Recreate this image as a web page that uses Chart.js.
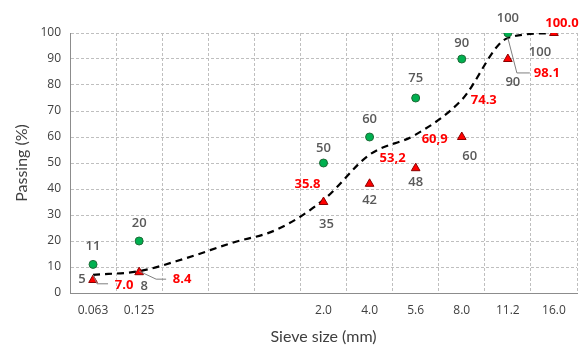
<!DOCTYPE html>
<html>
<head>
<meta charset="utf-8">
<script src="https://cdn.jsdelivr.net/npm/chart.js@4/dist/chart.umd.min.js"></script>
<style>
  html, body { margin: 0; padding: 0; background: #fff; }
  #wrap { width: 583px; height: 350px; position: relative; }
</style>
</head>
<body>
<div id="wrap"><canvas id="mainChart"></canvas></div>
<script>
// sieve sizes (blank slots keep the spacing of the original sheet)
const sieveLabels = ['0.063', '0.125', '', '', '', '2.0', '4.0', '5.6', '8.0', '11.2', '16.0'];
const upperPassing = [11, 20, null, null, null, 50, 60, 75, 90, 100, null];
const lowerPassing = [5, 8, null, null, null, 35, 42, 48, 60, 90, 100];
const curvePassing = [7.0, 8.4, 13.3, 19.2, 24.5, 35.8, 53.2, 60.9, 74.3, 98.1, 100.0];
const curveLabels = ['7.0', '8.4', '', '', '', '35.8', '53,2', '60,9', '74.3', '98.1', '100.0'];
const yTicks = [0, 10, 20, 30, 40, 50, 60, 70, 80, 90, 100];

const FONT = 'Lato, "Open Sans", sans-serif';
const LABEL_FONT = '"Open Sans", "Noto Sans", sans-serif';

// where each value label sits relative to its point (dx, dy), plus optional leader line
const upperPlace = [[0, -18], [0, -18], null, null, null, [0, -15], [0, -18], [0, -20], [0, -16], [0, -15], null];
const lowerPlace = [[-11, -1], [5, 14], null, null, null, [3, 22], [0, 16], [0, 14], [8, 19], [5, 23], [-14, 19]];
const curvePlace = [
    { d: [31, 10], leader: [[4, 9], [15, 9]] },
    { d: [43, 8], leader: [[17, 8], [27, 8]] },
    null, null, null,
    { d: [-16, -16] },
    { d: [23, 4] },
    { d: [19, 5] },
    { d: [22, 0] },
    { d: [39, 35], leader: [[9, 35], [22, 35]] },
    { d: [8, -10] }
];

const valueLabels = {
    id: 'valueLabels',
    afterDatasetsDraw(chart) {
        const ctx = chart.ctx;
        ctx.save();
        ctx.textAlign = 'center';
        ctx.textBaseline = 'middle';

        const pts = i => chart.getDatasetMeta(i).data;

        // grey labels of the two measured series
        ctx.font = '600 13px ' + LABEL_FONT;
        ctx.fillStyle = '#595959';
        pts(0).forEach((p, i) => {
            const pl = upperPlace[i];
            if (!pl || upperPassing[i] == null) return;
            ctx.fillText(String(upperPassing[i]), p.x + pl[0], p.y + pl[1]);
        });
        pts(1).forEach((p, i) => {
            const pl = lowerPlace[i];
            if (!pl || lowerPassing[i] == null) return;
            ctx.fillText(String(lowerPassing[i]), p.x + pl[0], p.y + pl[1]);
        });

        // curve labels in red, some with leader lines
        ctx.font = 'bold 13px ' + LABEL_FONT;
        pts(2).forEach((p, i) => {
            const pl = curvePlace[i];
            if (!pl || !curveLabels[i]) return;
            if (pl.leader) {
                ctx.strokeStyle = '#7f7f7f';
                ctx.lineWidth = 1;
                ctx.beginPath();
                ctx.moveTo(p.x, p.y);
                pl.leader.forEach(l => ctx.lineTo(p.x + l[0], p.y + l[1]));
                ctx.stroke();
            }
            ctx.fillStyle = '#ff0000';
            ctx.fillText(curveLabels[i], p.x + pl.d[0], p.y + pl.d[1]);
        });
        ctx.restore();
    }
};

const ctx = document.getElementById('mainChart').getContext('2d');
new Chart(ctx, {
    type: 'line',
    data: {
        labels: sieveLabels,
        datasets: [
            {
                label: 'Upper',
                data: upperPassing,
                showLine: false,
                pointStyle: 'circle',
                pointRadius: 4,
                pointBackgroundColor: '#00b050',
                pointBorderColor: '#1e6b37',
                pointBorderWidth: 1
            },
            {
                label: 'Lower',
                data: lowerPassing,
                showLine: false,
                pointStyle: 'triangle',
                pointRadius: 5,
                pointBackgroundColor: '#ff0000',
                pointBorderColor: '#8b0000',
                pointBorderWidth: 1
            },
            {
                label: 'Curve',
                data: curvePassing,
                borderColor: '#000',
                borderWidth: 2.2,
                borderDash: [7, 5],
                pointRadius: 0,
                cubicInterpolationMode: 'monotone',
                fill: false
            }
        ]
    },
    options: {
        responsive: true,
        maintainAspectRatio: false,
        animation: false,
        layout: { padding: { top: 33, right: 6, left: 0, bottom: 0 } },
        plugins: {
            legend: { display: false },
            tooltip: { enabled: false }
        },
        scales: {
            x: {
                offset: true,
                grid: {
                    offset: true,
                    color: '#bfbfbf',
                    drawTicks: false,
                    lineWidth: 1
                },
                border: { display: true, color: '#8c8c8c', dash: [3, 2], width: 1 },
                ticks: {
                    color: '#404040',
                    font: { family: LABEL_FONT, size: 12 },
                    padding: 10,
                    autoSkip: false,
                    maxRotation: 0
                },
                title: {
                    display: true,
                    text: 'Sieve size (mm)',
                    color: '#404040',
                    font: { family: FONT, size: 16 },
                    padding: { top: 4, bottom: 4 }
                },
                afterFit: s => { s.height = 57; }
            },
            y: {
                min: 0,
                max: 100,
                afterBuildTicks: s => { s.ticks = yTicks.map(v => ({ value: v })); },
                grid: {
                    color: '#bfbfbf',
                    drawTicks: false,
                    lineWidth: 1
                },
                border: { display: true, color: '#8c8c8c', dash: [3, 2], width: 1 },
                ticks: {
                    color: '#404040',
                    font: { family: LABEL_FONT, size: 12 },
                    padding: 9
                },
                title: {
                    display: true,
                    text: 'Passing (%)',
                    color: '#404040',
                    font: { family: FONT, size: 16 },
                    padding: { top: 12, bottom: 4 }
                },
                afterFit: s => { s.width = 70; }
            }
        }
    },
    plugins: [valueLabels]
});
</script>
</body>
</html>
